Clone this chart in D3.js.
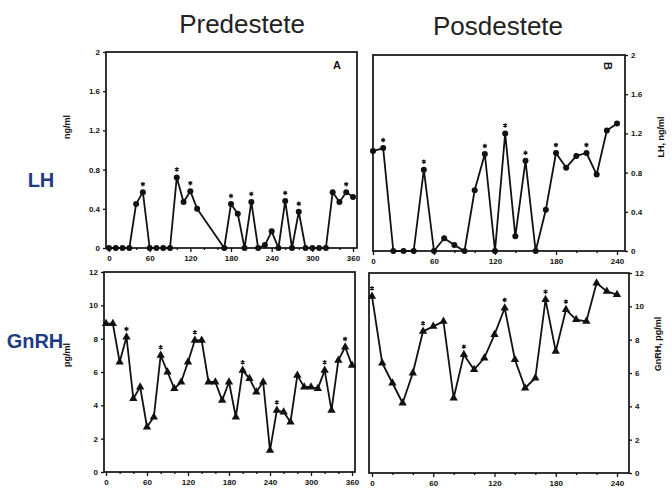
<!DOCTYPE html>
<html><head><meta charset="utf-8">
<script src="https://cdn.jsdelivr.net/npm/d3@7"></script>
<style>
body{margin:0;background:#fff;}
svg{display:block;}
text{font-family:"Liberation Sans",Arial,sans-serif;}
</style></head>
<body>
<svg id="c" width="672" height="497"></svg>
<script>
// ---- data ----
const timesPreLH = [0,10,20,30,40,50,60,70,80,90,100,110,120,130,170,180,190,200,210,220,230,240,250,260,270,280,290,300,310,320,330,340,350,360];
const lhPre = [0,0,0,0,0.45,0.57,0,0,0,0,0.72,0.47,0.58,0.4,0,0.45,0.35,0,0.47,0,0.03,0.17,0,0.48,0,0.37,0,0,0,0,0.57,0.47,0.57,0.52];
const starsPreLH = [50,100,120,180,210,260,280,350];

const timesPos = [0,10,20,30,40,50,60,70,80,90,100,110,120,130,140,150,160,170,180,190,200,210,220,230,240];
const lhPos = [1.02,1.05,0,0,0,0.83,0,0.13,0.06,0,0.62,0.99,0,1.2,0.15,0.92,0,0.42,1.0,0.85,0.97,1.0,0.78,1.23,1.3];
const starsPosLH = [10,50,110,130,150,180,210];

const timesPre = [0,10,20,30,40,50,60,70,80,90,100,110,120,130,140,150,160,170,180,190,200,210,220,230,240,250,260,270,280,290,300,310,320,330,340,350,360];
const gnrhPre = [8.9,8.9,6.6,8.1,4.4,5.1,2.7,3.3,7.0,6.0,5.0,5.4,6.6,7.9,7.9,5.4,5.4,4.3,5.4,3.3,6.1,5.6,4.8,5.4,1.3,3.7,3.6,3.0,5.8,5.1,5.1,5.0,6.1,3.7,6.7,7.5,6.4];
const starsPreGn = [30,80,130,200,250,320,350];

const gnrhPos = [10.6,6.6,5.4,4.2,6.0,8.5,8.8,9.1,4.5,7.1,6.2,6.9,8.3,9.9,6.8,5.1,5.7,10.4,7.3,9.8,9.2,9.1,11.4,10.9,10.7];
const starsPosGn = [0,50,90,130,170,190];

const xTicksPre = [0,60,120,180,240,300,360];
const xTicksPos = [0,60,120,180,240];
const yTicksLH = [0,0.4,0.8,1.2,1.6,2];
const yTicksGn = [0,2,4,6,8,10,12];

const titles = ["Predestete","Posdestete"];
const rowLabels = ["LH","GnRH"];

// ---- drawing ----
const svg = d3.select("#c");
const lhFmt = d => (d===0?"0":d===2?"2":d.toFixed(1));

function panel(o){
  const x = d3.scaleLinear().domain(o.xdom).range(o.xr);
  const y = d3.scaleLinear().domain(o.ydom).range([o.bottom,o.top]);
  const g = svg.append("g");
  g.append("rect").attr("x",o.bx0).attr("y",o.top).attr("width",o.bx1-o.bx0).attr("height",o.bottom-o.top)
    .attr("fill","none").attr("stroke","#111").attr("stroke-width",1.7);
  const yAx = (o.right? d3.axisRight(y) : d3.axisLeft(y)).tickValues(o.yticks).tickFormat(o.yfmt).tickSize(3).tickPadding(3);
  const ya = g.append("g").attr("transform",`translate(${o.right?o.bx1:o.bx0},0)`).call(yAx);
  ya.select(".domain").remove();
  const xAx = d3.axisBottom(x).tickValues(o.xticks).tickSize(4).tickPadding(3);
  const xa = g.append("g").attr("transform",`translate(0,${o.bottom})`).call(xAx);
  xa.select(".domain").remove();
  const minor = d3.range(o.xdom[0],o.xdom[1]+1,20).filter(v=>o.xticks.indexOf(v)<0);
  const xm = d3.axisBottom(x).tickValues(minor).tickSize(2).tickFormat("");
  const xma = g.append("g").attr("transform",`translate(0,${o.bottom})`).call(xm);
  xma.select(".domain").remove();
  [ya,xa,xma].forEach(a=>{
    a.selectAll("line").attr("stroke","#111").attr("stroke-width",1.3);
    a.selectAll("text").attr("font-size",8).attr("font-weight","bold").attr("fill","#111");
  });
  const pts = o.t.map((t,i)=>[t,o.v[i]]);
  g.append("path").datum(pts).attr("fill","none").attr("stroke","#111").attr("stroke-width",1.8)
    .attr("stroke-linejoin","round")
    .attr("d",d3.line().x(d=>x(d[0])).y(d=>y(d[1])));
  if(o.marker==="circle"){
    g.selectAll("circle.m").data(pts).join("circle").attr("class","m")
      .attr("cx",d=>x(d[0])).attr("cy",d=>y(d[1])).attr("r",3).attr("fill","#111");
  } else {
    const sym = d3.symbol().type(d3.symbolTriangle).size(30);
    g.selectAll("path.m").data(pts).join("path").attr("class","m")
      .attr("transform",d=>`translate(${x(d[0])},${y(d[1])})`).attr("d",sym).attr("fill","#111");
  }
  // asterisks drawn as small marks
  const star = d3.symbol().type(d3.symbolAsterisk).size(14);
  g.selectAll("path.s").data(o.stars).join("path").attr("class","s")
    .attr("transform",d=>`translate(${x(d)},${y(o.v[o.t.indexOf(d)])-8})`)
    .attr("d",star).attr("fill","none").attr("stroke","#111").attr("stroke-width",1.2);
  g.append("text").attr("transform",`translate(${o.lab[0]},${o.lab[1]}) rotate(-90)`)
    .attr("text-anchor","middle").attr("font-size",9).attr("font-weight","bold").attr("fill","#111").text(o.label);
  return {x,y,g};
}

panel({xdom:[0,360],xr:[109,353],ydom:[0,2],top:52,bottom:248,bx0:106,bx1:357,
  yticks:yTicksLH,yfmt:lhFmt,xticks:xTicksPre,t:timesPreLH,v:lhPre,stars:starsPreLH,
  marker:"circle",label:"ng/ml",lab:[70,127]});
panel({xdom:[0,240],xr:[373,617],ydom:[0,2],top:55,bottom:251,bx0:373,bx1:625,right:true,
  yticks:yTicksLH,yfmt:lhFmt,xticks:xTicksPos,t:timesPos,v:lhPos,stars:starsPosLH,
  marker:"circle",label:"LH, ng/ml",lab:[664,137]});
panel({xdom:[0,360],xr:[106,352],ydom:[0,12],top:272,bottom:472,bx0:104,bx1:355,
  yticks:yTicksGn,yfmt:d3.format("d"),xticks:xTicksPre,t:timesPre,v:gnrhPre,stars:starsPreGn,
  marker:"tri",label:"pg/ml",lab:[70,355]});
panel({xdom:[0,240],xr:[372,617],ydom:[0,12],top:273,bottom:473,bx0:369,bx1:629,right:true,
  yticks:yTicksGn,yfmt:d3.format("d"),xticks:xTicksPos,t:timesPos,v:gnrhPos,stars:starsPosGn,
  marker:"tri",label:"GnRH, pg/ml",lab:[661,344]});

svg.append("text").attr("x",337).attr("y",69).attr("text-anchor","middle").attr("font-size",11).attr("font-weight","bold").attr("fill","#111").text("A");
svg.append("text").attr("transform","translate(604,66) rotate(90)").attr("text-anchor","middle").attr("font-size",11).attr("font-weight","bold").attr("fill","#111").text("B");

svg.selectAll("text.title").data(titles).join("text").attr("class","title")
  .attr("x",(d,i)=>[242,498][i]).attr("y",(d,i)=>[33,35][i]).attr("text-anchor","middle")
  .attr("font-size",26).attr("fill","#222").text(d=>d);
svg.selectAll("text.row").data(rowLabels).join("text").attr("class","row")
  .attr("x",(d,i)=>[41,35][i]).attr("y",(d,i)=>[187,348][i]).attr("text-anchor","middle")
  .attr("font-size",20).attr("font-weight","bold").attr("fill","#1f3b84").text(d=>d);
</script>
</body></html>
